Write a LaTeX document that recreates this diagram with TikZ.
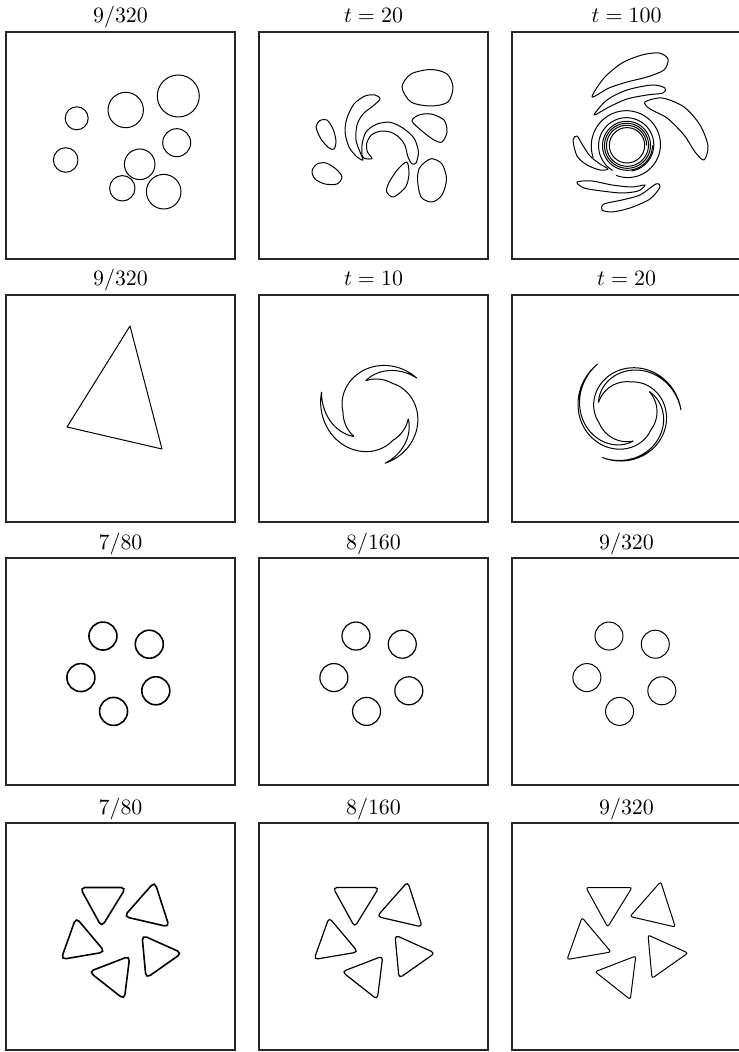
\documentclass[tikz,border=0pt]{standalone}
\usepackage{amsmath}
\usetikzlibrary{calc}

\begin{document}
\begin{tikzpicture}[x=0.5pt, y=-0.5pt,
  marco/.style={draw=black!85, line width=0.7pt},
  curva/.style={line width=0.5pt, line join=round},
  gruesa/.style={line width=0.8pt, line join=round},
  titulo/.style={anchor=base, inner sep=0pt, font=\fontsize{11}{13}\selectfont},
]
\useasboundingbox (0,0) rectangle (738,1052);

% marcos
\foreach \yy in {32,295,558,823}
  \foreach \xx in {6,259,512}
    \draw[marco] (\xx,\yy) rectangle ++(229,227);

% titulos
\node[titulo] (t11) at (120.5,23) {$9/320$};
\node[titulo] (t12) at (373.5,23) {$t=20$};
\node[titulo] (t13) at (626.5,23) {$t=100$};
\node[titulo] (t21) at (120.5,286) {$9/320$};
\node[titulo] (t22) at (373.5,286) {$t=10$};
\node[titulo] (t23) at (626.5,286) {$t=20$};
\node[titulo] (t31) at (120.5,549) {$7/80$};
\node[titulo] (t32) at (373.5,549) {$8/160$};
\node[titulo] (t33) at (626.5,549) {$9/320$};
\node[titulo] (t41) at (120.5,814) {$7/80$};
\node[titulo] (t42) at (373.5,814) {$8/160$};
\node[titulo] (t43) at (626.5,814) {$9/320$};

% fila 1: parches circulares
\begin{scope}[shift={(6,32)}]
  \foreach \px/\py/\pr in {70.7/86.3/11.5, 119.7/78/17.7, 172.3/64/21,
      59.7/128/12.3, 170.7/110.7/14, 133.7/132.3/15.3, 116.3/156.3/12.7,
      157.7/159.7/17.3}
    \draw[curva] (\px,\py) circle[radius=\pr];
\end{scope}

\begin{scope}[shift={(259,32)}]
  \draw[curva] plot[smooth cycle] coordinates {(143,55) (152,42) (172,37.5)
    (188,42) (194,55) (189,70) (172,74) (152,70)};
  \draw[curva] plot[smooth cycle] coordinates {(153,89) (160,83) (172,82)
    (185,88) (188,100) (183,110) (175,108) (163,99)};
  \draw[curva] plot[smooth cycle] coordinates {(165,131) (173,126.7) (183,132)
    (187.5,147) (183,163) (173,170) (162,165) (158.5,148) (160,137)};
  \draw[curva] plot[smooth cycle] coordinates {(53,139) (58,132) (67,131)
    (77,137) (83,145) (78,152) (66,152) (56,147)};
  \draw[curva] plot[smooth cycle] coordinates {(57,95) (61,88.5) (68,88)
    (74,97) (77,109) (75,117) (70,116) (62,107)};
  \draw[curva] plot[smooth cycle] coordinates {(121,67) (116,63) (106,64)
    (95,72) (88,86) (86,100) (90,115) (98,125) (104,128) (101,120) (97,108)
    (98,93) (104,82) (114,74)};
  \draw[curva] plot[smooth cycle] coordinates {(103,123) (103.2,111.7) (107,100)
    (117.3,92.3) (131.1,90.3) (144.9,96.7) (155.3,106.7) (159.4,120) (157,131)
    (152.8,131.7) (149,125) (145.9,113.3) (139.7,105) (131.1,100) (120.8,99.3)
    (112.1,103.3) (107.6,111.7) (108.5,120) (113,126.5) (106,126.5)};
  \draw[curva] plot[smooth cycle] coordinates {(147.7,130) (150,141.7)
    (146.6,155) (134.6,165) (127.7,160) (129.4,151.7) (138,138.3)};
\end{scope}

\begin{scope}[shift={(512,32)}]
  \draw[curva] (115,113.3) circle[radius=17.7];
  \draw[curva] plot[domain=0:1080, samples=240]
    ({115+(19.5+2*\x/360)*cos(\x)}, {113.3-(19.5+2*\x/360)*sin(\x)});
  \draw[curva] plot[domain=280:600, samples=90]
    ({115+(26+3*(\x-280)/320)*cos(\x)}, {113.3-(26+3*(\x-280)/320)*sin(\x)});
  \draw[curva] plot[domain=250:560, samples=90]
    ({115+(32+4*(\x-250)/310)*cos(\x)}, {113.3-(32+4*(\x-250)/310)*sin(\x)});
  \draw[curva] plot[smooth cycle] coordinates {(80,65) (92,46) (110,31)
    (130,23) (147,21) (156,27) (152,38) (135,45) (115,50) (97,56)};
  \draw[curva] plot[smooth cycle] coordinates {(82,83) (95,68) (115,58)
    (140,53) (153,56) (151,61) (135,63) (115,67) (97,75)};
  \draw[curva] plot[smooth cycle] coordinates {(133,70) (150,66) (172,75)
    (188,93) (196,114) (192,128) (183,120) (172,103) (155,86) (138,77)};
  \draw[curva] plot[smooth cycle] coordinates {(61,108) (65,104) (70,112)
    (78,124) (88,132) (96,137) (88,138) (75,133) (65,124)};
  \draw[curva] plot[smooth cycle] coordinates {(65,150) (80,149) (100,153)
    (120,155) (133,153) (126,159) (110,161) (90,159) (72,156)};
  \draw[curva] plot[smooth cycle] coordinates {(90,178) (92,172) (110,168)
    (128,163) (144,152) (148,155) (138,167) (118,176) (100,180)};
\end{scope}

% fila 2: triangulo y filamentos
\begin{scope}[shift={(6,295)}]
  \draw[curva] (124,31) -- (61,132) -- (156,154) -- cycle;
\end{scope}

\begin{scope}[shift={(259,295)}]
  \foreach \T/\rtip in {40/53,160/58,280/52} {
    \pgfmathsetmacro\Ta{\T+188}
    \pgfmathsetmacro\Tb{\T+68}
    \draw[curva] plot[domain=\Ta:\T, samples=60]
        ({117+(\rtip-(\rtip-33)*min(1,(\x-\T)/140))*cos(\x)},
         {117-(\rtip-(\rtip-33)*min(1,(\x-\T)/140))*sin(\x)})
      -- plot[domain=\T:\Tb, samples=30]
        ({117+(\rtip-(\rtip-33)*(\x-\T)/68)*cos(\x)},
         {117-(\rtip-(\rtip-33)*(\x-\T)/68)*sin(\x)});
  }
\end{scope}

\begin{scope}[shift={(512,295)}]
  \foreach \T/\rtip in {2/54,122/56,242/52} {
    \pgfmathsetmacro\Ta{\T+280}
    \pgfmathsetmacro\Tb{\T+160}
    \draw[curva] plot[domain=\Ta:\T, samples=90]
        ({115+(\rtip-(\rtip-30)*min(1,(\x-\T)/200))*cos(\x)},
         {116.7-(\rtip-(\rtip-30)*min(1,(\x-\T)/200))*sin(\x)})
      -- plot[domain=\T:\Tb, samples=60]
        ({115+(\rtip-(\rtip-30)*(\x-\T)/160)*cos(\x)},
         {116.7-(\rtip-(\rtip-30)*(\x-\T)/160)*sin(\x)});
  }
\end{scope}

% fila 3: cinco circulos
\foreach \xx/\ll in {6/0.8pt, 259/0.6pt, 512/0.5pt}
  \foreach \a in {44,116,188,260,332}
    \draw[line width=\ll] ({\xx+114.5+40*cos(\a)},{558+114-40*sin(\a)}) circle[radius=14];

% fila 4: cinco triangulos
\foreach \xx/\ll/\rr in {6/0.8pt/2.5pt, 259/0.6pt/2pt, 512/0.5pt/1.2pt} {
  \begin{scope}[shift={(\xx,823)}, line width=\ll, rounded corners=\rr]
    \draw (74,64.5) -- (120,64.5) -- (95.7,104) -- cycle;
    \draw (148.7,58.7) -- (118,93.5) -- (163.3,104) -- cycle;
    \draw (70,94.5) -- (55,136.5) -- (99,129) -- cycle;
    \draw (136,112) -- (140,155.3) -- (176,130) -- cycle;
    \draw (83,148.7) -- (123.8,133) -- (118.3,176.5) -- cycle;
  \end{scope}
}
\end{tikzpicture}
\end{document}
